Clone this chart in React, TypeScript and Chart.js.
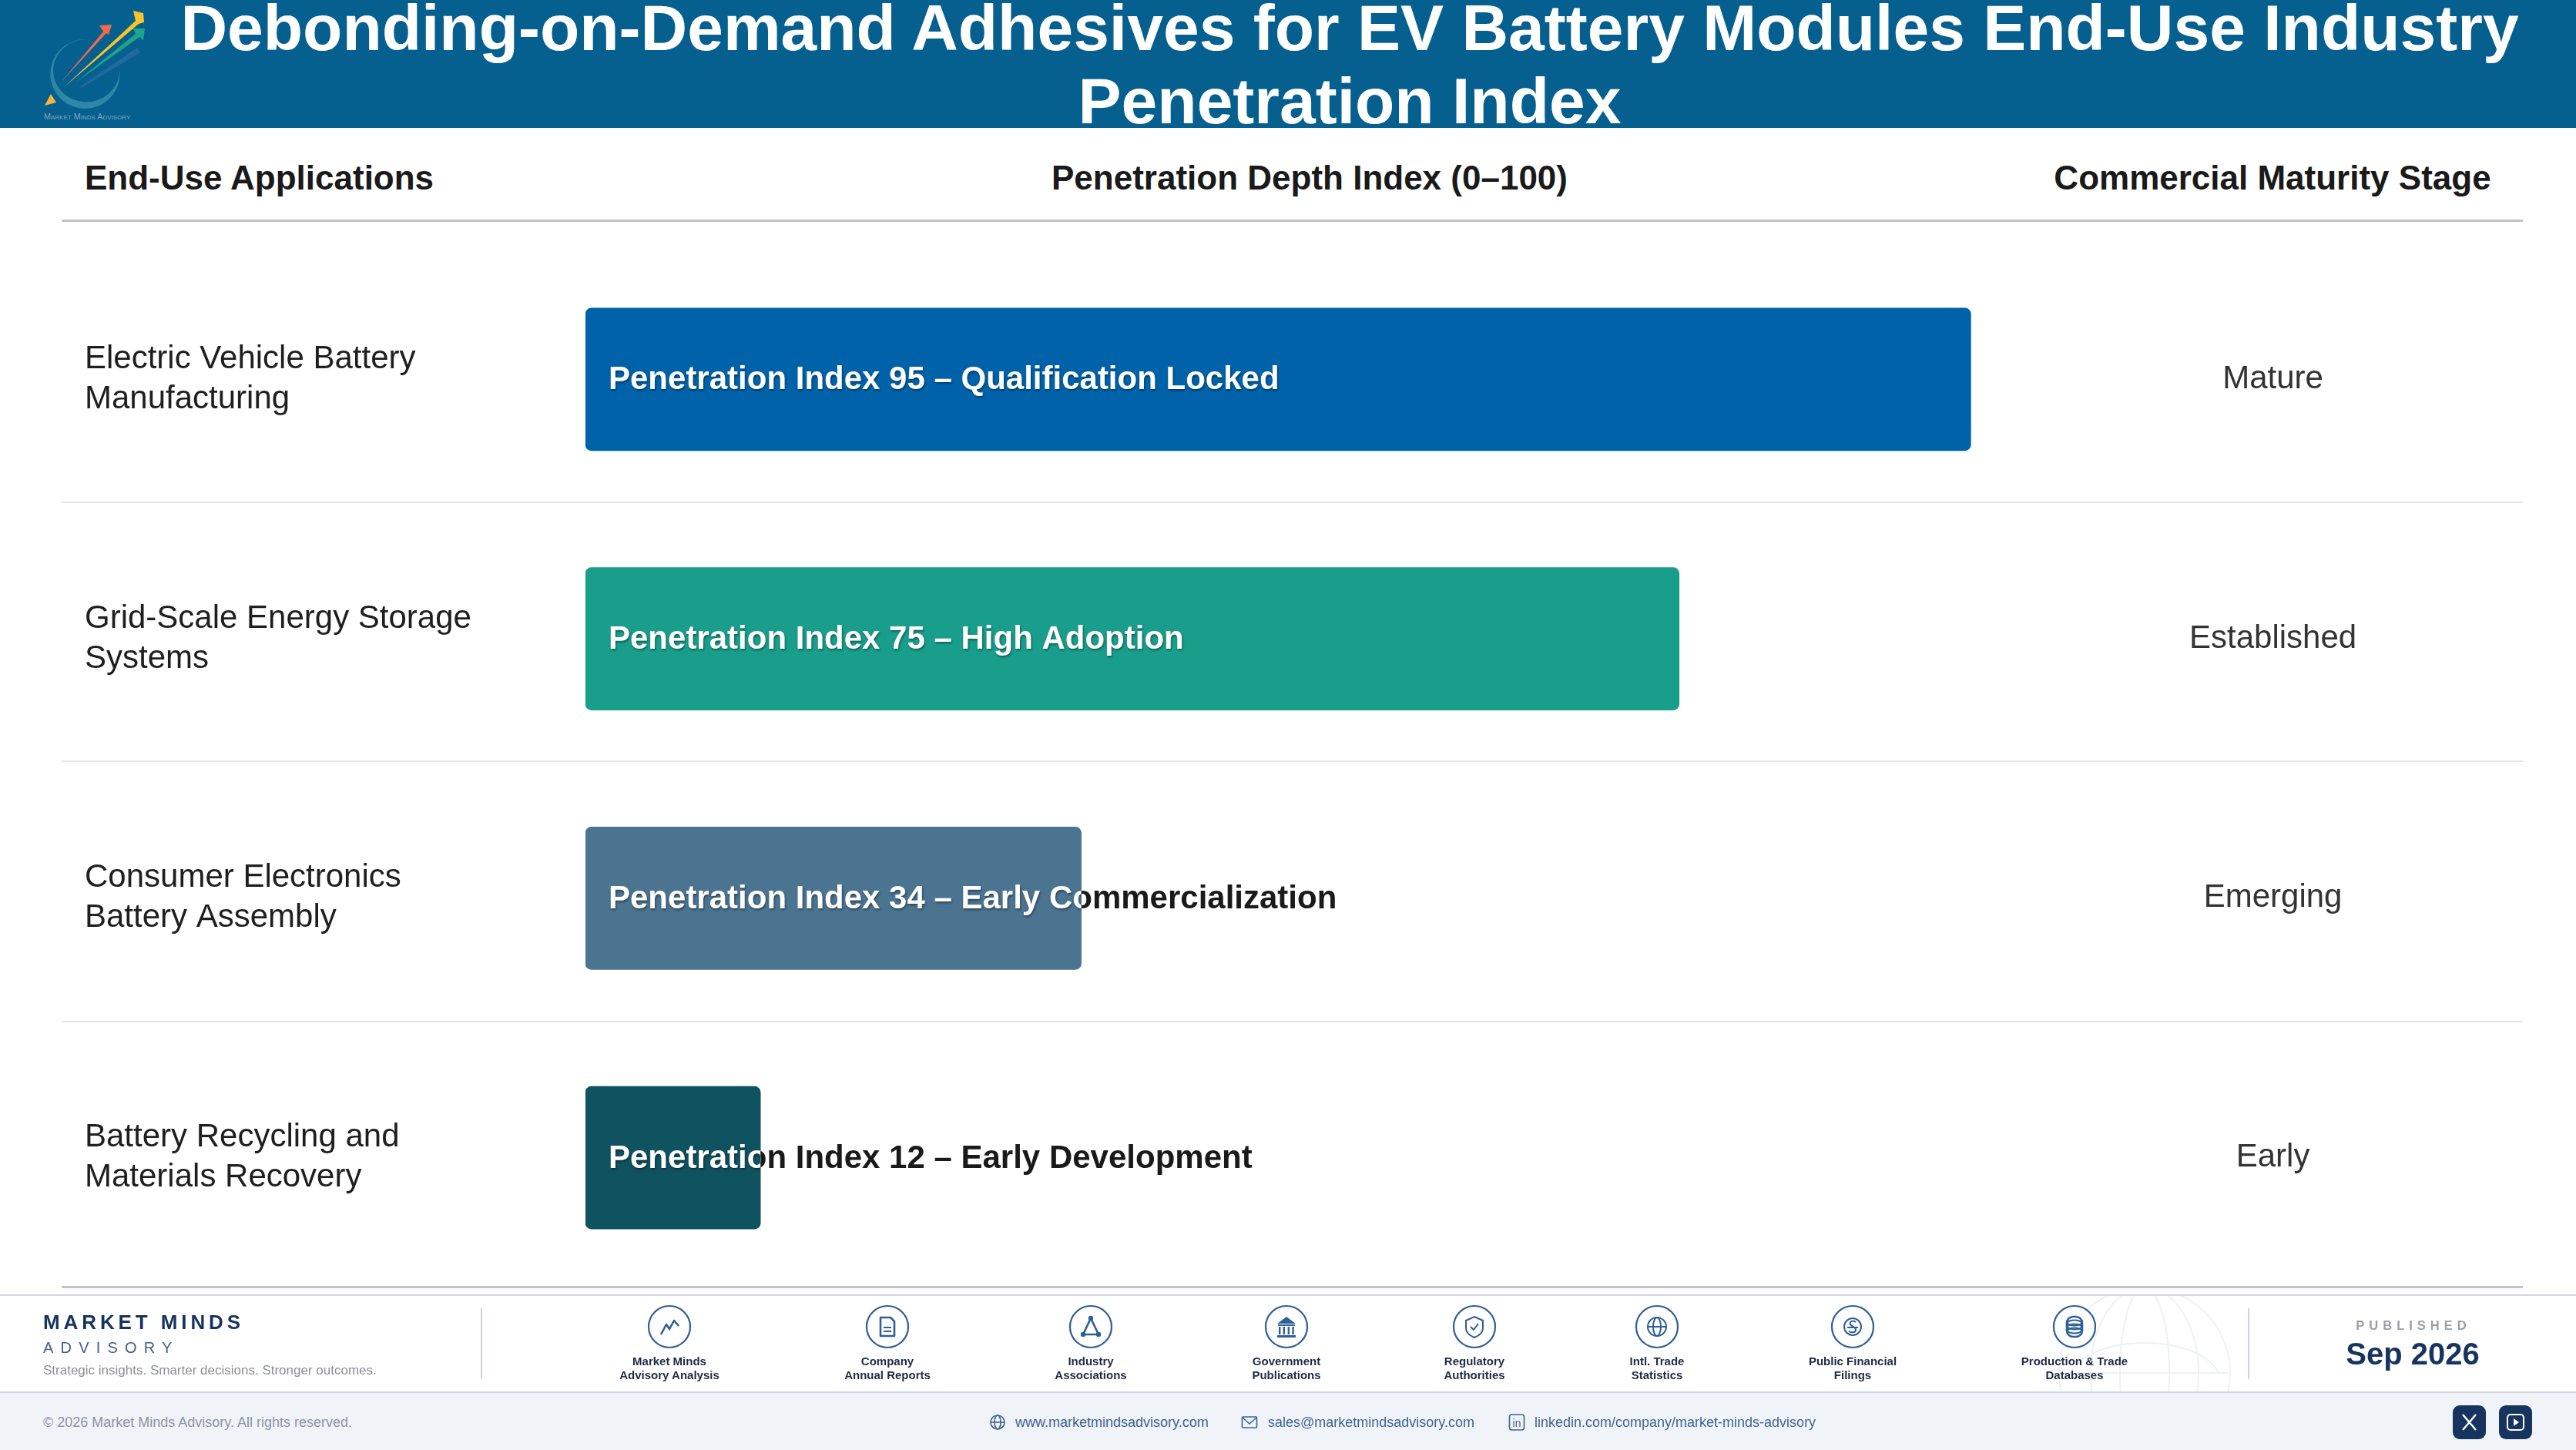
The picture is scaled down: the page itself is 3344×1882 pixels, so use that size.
import { useEffect, useRef } from 'react';
import type { CSSProperties, ReactNode } from 'react';
import { Chart, registerables } from 'chart.js';

Chart.register(...registerables);

const FONT = '"Liberation Sans", Arial, sans-serif';
const ICON_BLUE = '#2f5f97';
const NAVY = '#17345f';

const categories = [
  ['Electric Vehicle Battery', 'Manufacturing'],
  ['Grid-Scale Energy Storage', 'Systems'],
  ['Consumer Electronics', 'Battery Assembly'],
  ['Battery Recycling and', 'Materials Recovery'],
];
const indexValues = [95, 75, 34, 12];
const barLabels = [
  'Penetration Index 95 – Qualification Locked',
  'Penetration Index 75 – High Adoption',
  'Penetration Index 34 – Early Commercialization',
  'Penetration Index 12 – Early Development',
];
const stages = ['Mature', 'Established', 'Emerging', 'Early'];
const barColors = ['#0063a9', '#1a9e8c', '#4a7490', '#0f5260'];

const rowLines = [651, 987, 1325];
const sources = [
  { x: 869, lines: ['Market Minds', 'Advisory Analysis'], icon: 'trend' },
  { x: 1152, lines: ['Company', 'Annual Reports'], icon: 'doc' },
  { x: 1416, lines: ['Industry', 'Associations'], icon: 'nodes' },
  { x: 1670, lines: ['Government', 'Publications'], icon: 'bank' },
  { x: 1914, lines: ['Regulatory', 'Authorities'], icon: 'shield' },
  { x: 2151, lines: ['Intl. Trade', 'Statistics'], icon: 'globe' },
  { x: 2405, lines: ['Public Financial', 'Filings'], icon: 'coin' },
  { x: 2693, lines: ['Production & Trade', 'Databases'], icon: 'db' },
];

// white text inside the bar, dark where it runs past the end
const barTextPlugin = {
  id: 'barText',
  afterDatasetsDraw(chart: any) {
    const { ctx, width } = chart;
    chart.getDatasetMeta(0).data.forEach((bar: any, i: number) => {
      const { x, y, base, height } = bar.getProps(['x', 'y', 'base', 'height'], true);
      const textX = base + 30;
      const textY = y + 1.5;
      ctx.font = `bold 42px ${FONT}`;
      ctx.textBaseline = 'middle';
      ctx.textAlign = 'left';

      ctx.save();
      ctx.beginPath();
      ctx.rect(x, y - height / 2, width - x, height);
      ctx.clip();
      ctx.fillStyle = '#1a1a1a';
      ctx.fillText(barLabels[i], textX, textY);
      ctx.restore();

      ctx.save();
      ctx.beginPath();
      ctx.rect(base, y - height / 2, x - base, height);
      ctx.clip();
      ctx.shadowColor = 'rgba(0,0,0,0.4)';
      ctx.shadowBlur = 3;
      ctx.shadowOffsetX = 1;
      ctx.shadowOffsetY = 2;
      ctx.fillStyle = '#ffffff';
      ctx.fillText(barLabels[i], textX, textY);
      ctx.restore();
    });
  },
};

function PenetrationChart() {
  const canvasRef = useRef<HTMLCanvasElement>(null);

  useEffect(() => {
    if (!canvasRef.current) return;
    const chart = new Chart(canvasRef.current, {
      type: 'bar',
      data: {
        labels: categories,
        datasets: [
          {
            data: indexValues,
            backgroundColor: barColors,
            borderRadius: 8,
            borderSkipped: false,
            barThickness: 185,
          },
        ],
      },
      options: {
        indexAxis: 'y',
        responsive: false,
        devicePixelRatio: 1,
        animation: false,
        layout: { padding: { left: 110, top: 324, bottom: 211, right: 0 } },
        plugins: { legend: { display: false }, tooltip: { enabled: false } },
        scales: {
          x: { display: false, min: 0, max: 100 },
          y: {
            grid: { display: false },
            border: { display: false },
            afterFit: (scale: any) => {
              scale.width = 650;
            },
            ticks: {
              autoSkip: false,
              crossAlign: 'far',
              color: '#1f1f1f',
              font: { family: FONT, size: 42, lineHeight: 1.24 },
            },
          },
          y2: {
            type: 'category',
            position: 'right',
            offset: true,
            labels: stages,
            grid: { display: false },
            border: { display: false },
            afterFit: (scale: any) => {
              scale.width = 691;
            },
            ticks: {
              autoSkip: false,
              crossAlign: 'center',
              padding: 181,
              color: '#333333',
              font: { family: FONT, size: 42 },
            },
          },
        },
      } as any,
      plugins: [barTextPlugin],
    });
    return () => chart.destroy();
  }, []);

  return (
    <canvas
      ref={canvasRef}
      width={3344}
      height={1882}
      style={{ position: 'absolute', left: 0, top: 0, width: 3344, height: 1882 }}
    />
  );
}

function Txt({
  x,
  y,
  size,
  color,
  anchor = 'left',
  weight = 400,
  spacing = 0,
  children,
}: {
  x: number;
  y: number;
  size: number;
  color: string;
  anchor?: 'left' | 'center';
  weight?: number;
  spacing?: number;
  children: ReactNode;
}) {
  const style: CSSProperties = {
    position: 'absolute',
    left: x,
    top: y,
    fontSize: size,
    lineHeight: 1,
    color,
    fontWeight: weight,
    letterSpacing: spacing,
    whiteSpace: 'nowrap',
    transform: anchor === 'center' ? 'translate(-50%,-50%)' : 'translateY(-50%)',
  };
  return <div style={style}>{children}</div>;
}

function Box({ x, y, w, h, color }: { x: number; y: number; w: number; h: number; color: string }) {
  return <div style={{ position: 'absolute', left: x, top: y, width: w, height: h, background: color }} />;
}

function Logo() {
  return (
    <svg width={170} height={166} viewBox="40 0 170 166" style={{ position: 'absolute', left: 40, top: 0 }}>
      <path d="M120 52 A45 45 0 1 0 155 90 A43 40.5 0 1 1 120 52 Z" fill="#2e87a6" />
      <polygon points="66,122 73,133 58,137" fill="#f4b63a" />
      <polygon points="103,113 178,62 182,68 106,114" fill="#1f6a9f" />
      <polygon points="98,107 176,44 173,37 188,37 186,52 181,48" fill="#1fa58c" />
      <polygon points="79,107 134,41 129,33 145,32 141,45 138,43" fill="#ee6a4c" />
      <polygon points="83,113 176,27 173,14 186,17 187,29 180,31" fill="#f7c52b" />
      <text x={57} y={155} fontFamily={FONT} fontSize={10.8} fill="#7ea6bf" style={{ fontVariant: 'small-caps' }}>
        Market Minds Advisory
      </text>
    </svg>
  );
}

function Glyph({ name }: { name: string }) {
  const line = { fill: 'none', stroke: ICON_BLUE, strokeWidth: 2 };
  const bold = { fill: 'none', stroke: ICON_BLUE, strokeWidth: 2.6, strokeLinejoin: 'round' as const };
  switch (name) {
    case 'trend':
      return <polyline points="-11,10 -4,-3 0,3 6,-8 12,-1" {...bold} />;
    case 'doc':
      return (
        <g>
          <path d="M-9,-12 H4 L9,-7 V12 H-9 Z" {...bold} />
          <path d="M-5,1 H5 M-5,6 H5" {...line} />
        </g>
      );
    case 'nodes':
      return (
        <g>
          <path d="M0,-11 L-10,10 H10 Z" {...bold} />
          <circle cx={0} cy={-11} r={3.2} fill={ICON_BLUE} />
          <circle cx={-10} cy={10} r={3.2} fill={ICON_BLUE} />
          <circle cx={10} cy={10} r={3.2} fill={ICON_BLUE} />
        </g>
      );
    case 'bank':
      return (
        <g fill={ICON_BLUE}>
          <polygon points="0,-13 -12,-4 12,-4" />
          <rect x={-11} y={-3} width={22} height={2} />
          <rect x={-10} y={0} width={2.4} height={10} />
          <rect x={-4.4} y={0} width={2.4} height={10} />
          <rect x={1.6} y={0} width={2.4} height={10} />
          <rect x={7.4} y={0} width={2.4} height={10} />
          <rect x={-12} y={11} width={24} height={3} />
        </g>
      );
    case 'shield':
      return (
        <g>
          <path d="M0,-13 L11,-8 V2 C11,8 5,12 0,14 C-5,12 -11,8 -11,2 V-8 Z" {...line} />
          <polyline points="-5,0 -1,4 5,-4" {...line} />
        </g>
      );
    case 'globe':
      return (
        <g>
          <circle r={12} {...line} />
          <ellipse rx={5} ry={12} {...line} />
          <path d="M-12,0 H12" {...line} />
        </g>
      );
    case 'coin':
      return (
        <g>
          <circle r={11} {...line} />
          <path d="M4,-6 C1,-9 -5,-7 -3,-3 C-1,0 4,0 4,4 C4,8 -2,8 -5,6 M-7,1 H7" {...line} />
        </g>
      );
    default:
      return (
        <g>
          <rect x={-10} y={-13} width={20} height={26} rx={8} {...bold} />
          <ellipse cy={-5} rx={9} ry={3.5} {...line} />
          <ellipse cy={0} rx={9} ry={3.5} {...line} />
          <ellipse cy={5} rx={9} ry={3.5} {...line} />
        </g>
      );
  }
}

function SourceIcon({ x, name }: { x: number; name: string }) {
  return (
    <svg width={60} height={60} viewBox="-30 -30 60 60" style={{ position: 'absolute', left: x - 30, top: 1692 }}>
      <circle r={27} fill="#ffffff" stroke={ICON_BLUE} strokeWidth={2.2} />
      <Glyph name={name} />
    </svg>
  );
}

function LinkIcon({ x, name }: { x: number; name: string }) {
  const line = { fill: 'none', stroke: '#3f6291', strokeWidth: 1.6 };
  return (
    <svg width={24} height={24} viewBox="-12 -12 24 24" style={{ position: 'absolute', left: x - 12, top: 1834 }}>
      {name === 'web' && (
        <g>
          <circle r={9} {...line} />
          <ellipse rx={4} ry={9} {...line} />
          <path d="M-9,0 H9" {...line} />
        </g>
      )}
      {name === 'mail' && (
        <g>
          <rect x={-9.5} y={-7} width={19} height={14} rx={1} {...line} />
          <path d="M-9,-6 L0,2 L9,-6" {...line} />
        </g>
      )}
      {name === 'in' && (
        <g>
          <rect x={-9.5} y={-10} width={19} height={20} rx={3} {...line} />
          <text x={0} y={6} textAnchor="middle" fontFamily={FONT} fontSize={14} fill="#3f6291">
            in
          </text>
        </g>
      )}
    </svg>
  );
}

function Watermark() {
  const line = { fill: 'none', stroke: '#eef1f5', strokeWidth: 2 };
  return (
    <div style={{ position: 'absolute', left: 2624, top: 1682, width: 320, height: 124, overflow: 'hidden' }}>
      <svg width={320} height={240} viewBox="-160 -100 320 240" style={{ position: 'absolute', left: 0, top: 0 }}>
        <circle r={111} {...line} />
        <ellipse rx={70} ry={111} {...line} />
        <ellipse rx={32} ry={111} {...line} />
        <path d="M-111,0 H111" {...line} />
        <path d="M-96,0 C-70,-52 70,-52 96,0" {...line} />
      </svg>
    </div>
  );
}

export default function App() {
  useEffect(() => {
    document.body.style.margin = '0';
    document.body.style.overflow = 'hidden';
  }, []);

  return (
    <div
      style={{
        position: 'relative',
        width: 3344,
        height: 1882,
        overflow: 'hidden',
        background: '#ffffff',
        fontFamily: FONT,
      }}
    >
      {/* header */}
      <div style={{ position: 'absolute', left: 0, top: 0, width: 3344, height: 166, background: '#05608f', overflow: 'hidden' }}>
        <Txt x={1752} y={36} size={84} color="#ffffff" weight={700} anchor="center">
          Debonding-on-Demand Adhesives for EV Battery Modules End-Use Industry
        </Txt>
        <Txt x={1752} y={131} size={84} color="#ffffff" weight={700} anchor="center">
          Penetration Index
        </Txt>
      </div>
      <Logo />

      {/* column heads */}
      <Txt x={110} y={231} size={44} color="#1a1a1a" weight={700}>
        End-Use Applications
      </Txt>
      <Txt x={1700} y={231} size={44} color="#1a1a1a" weight={700} anchor="center">
        Penetration Depth Index (0–100)
      </Txt>
      <Txt x={2950} y={231} size={44} color="#1a1a1a" weight={700} anchor="center">
        Commercial Maturity Stage
      </Txt>
      <Box x={80} y={284.5} w={3195} h={3} color="#c2c2c8" />
      {rowLines.map((y) => (
        <Box key={y} x={80} y={y} w={3195} h={2} color="#e6e6ea" />
      ))}
      <Box x={80} y={1668.5} w={3195} h={3} color="#c2c2c8" />

      <PenetrationChart />

      {/* footer */}
      <Box x={0} y={1680} w={3344} h={2} color="#d2d6e2" />
      <Box x={0} y={1806} w={3344} h={76} color="#f0f4f9" />
      <Box x={0} y={1806} w={3344} h={2} color="#d2d6e2" />
      <Watermark />
      <Txt x={56} y={1716} size={26} color={NAVY} weight={700} spacing={4.9}>
        MARKET MINDS
      </Txt>
      <Txt x={56} y={1749} size={20} color="#46608a" spacing={9.2}>
        ADVISORY
      </Txt>
      <Txt x={56} y={1778} size={17} color="#8a9099">
        Strategic insights. Smarter decisions. Stronger outcomes.
      </Txt>
      <Box x={624} y={1698} w={2} h={92} color="#cfd4dc" />
      <Box x={2918} y={1698} w={2} h={92} color="#cfd4dc" />
      {sources.map((s) => (
        <div key={s.x}>
          <SourceIcon x={s.x} name={s.icon} />
          <Txt x={s.x} y={1766} size={15} color="#1f2a44" weight={700} anchor="center">
            {s.lines[0]}
          </Txt>
          <Txt x={s.x} y={1784} size={15} color="#1f2a44" weight={700} anchor="center">
            {s.lines[1]}
          </Txt>
        </div>
      ))}
      <Txt x={3133} y={1720} size={16.5} color="#9aa0a8" weight={700} spacing={6} anchor="center">
        PUBLISHED
      </Txt>
      <Txt x={3132} y={1757} size={40} color={NAVY} weight={700} anchor="center">
        Sep 2026
      </Txt>

      <Txt x={56} y={1846} size={18} color="#8b95a3">
        © 2026 Market Minds Advisory. All rights reserved.
      </Txt>
      <LinkIcon x={1295} name="web" />
      <Txt x={1318} y={1846} size={18} color="#3f6291">
        www.marketmindsadvisory.com
      </Txt>
      <LinkIcon x={1622} name="mail" />
      <Txt x={1646} y={1846} size={18} color="#3f6291">
        sales@marketmindsadvisory.com
      </Txt>
      <LinkIcon x={1969} name="in" />
      <Txt x={1992} y={1846} size={18} color="#3f6291">
        linkedin.com/company/market-minds-advisory
      </Txt>
      <svg width={103} height={44} viewBox="3184 1824 103 44" style={{ position: 'absolute', left: 3184, top: 1824 }}>
        <rect x={3184} y={1824} width={43} height={44} rx={9} fill={NAVY} />
        <path d="M3197,1836 L3214,1856 M3214,1836 L3197,1856" stroke="#ffffff" strokeWidth={2.4} fill="none" />
        <rect x={3244} y={1824} width={43} height={44} rx={9} fill={NAVY} />
        <rect x={3255} y={1836} width={21} height={20} rx={4} stroke="#ffffff" strokeWidth={2} fill="none" />
        <polygon points="3263,1841 3270,1846 3263,1851" fill="#ffffff" />
      </svg>
    </div>
  );
}
